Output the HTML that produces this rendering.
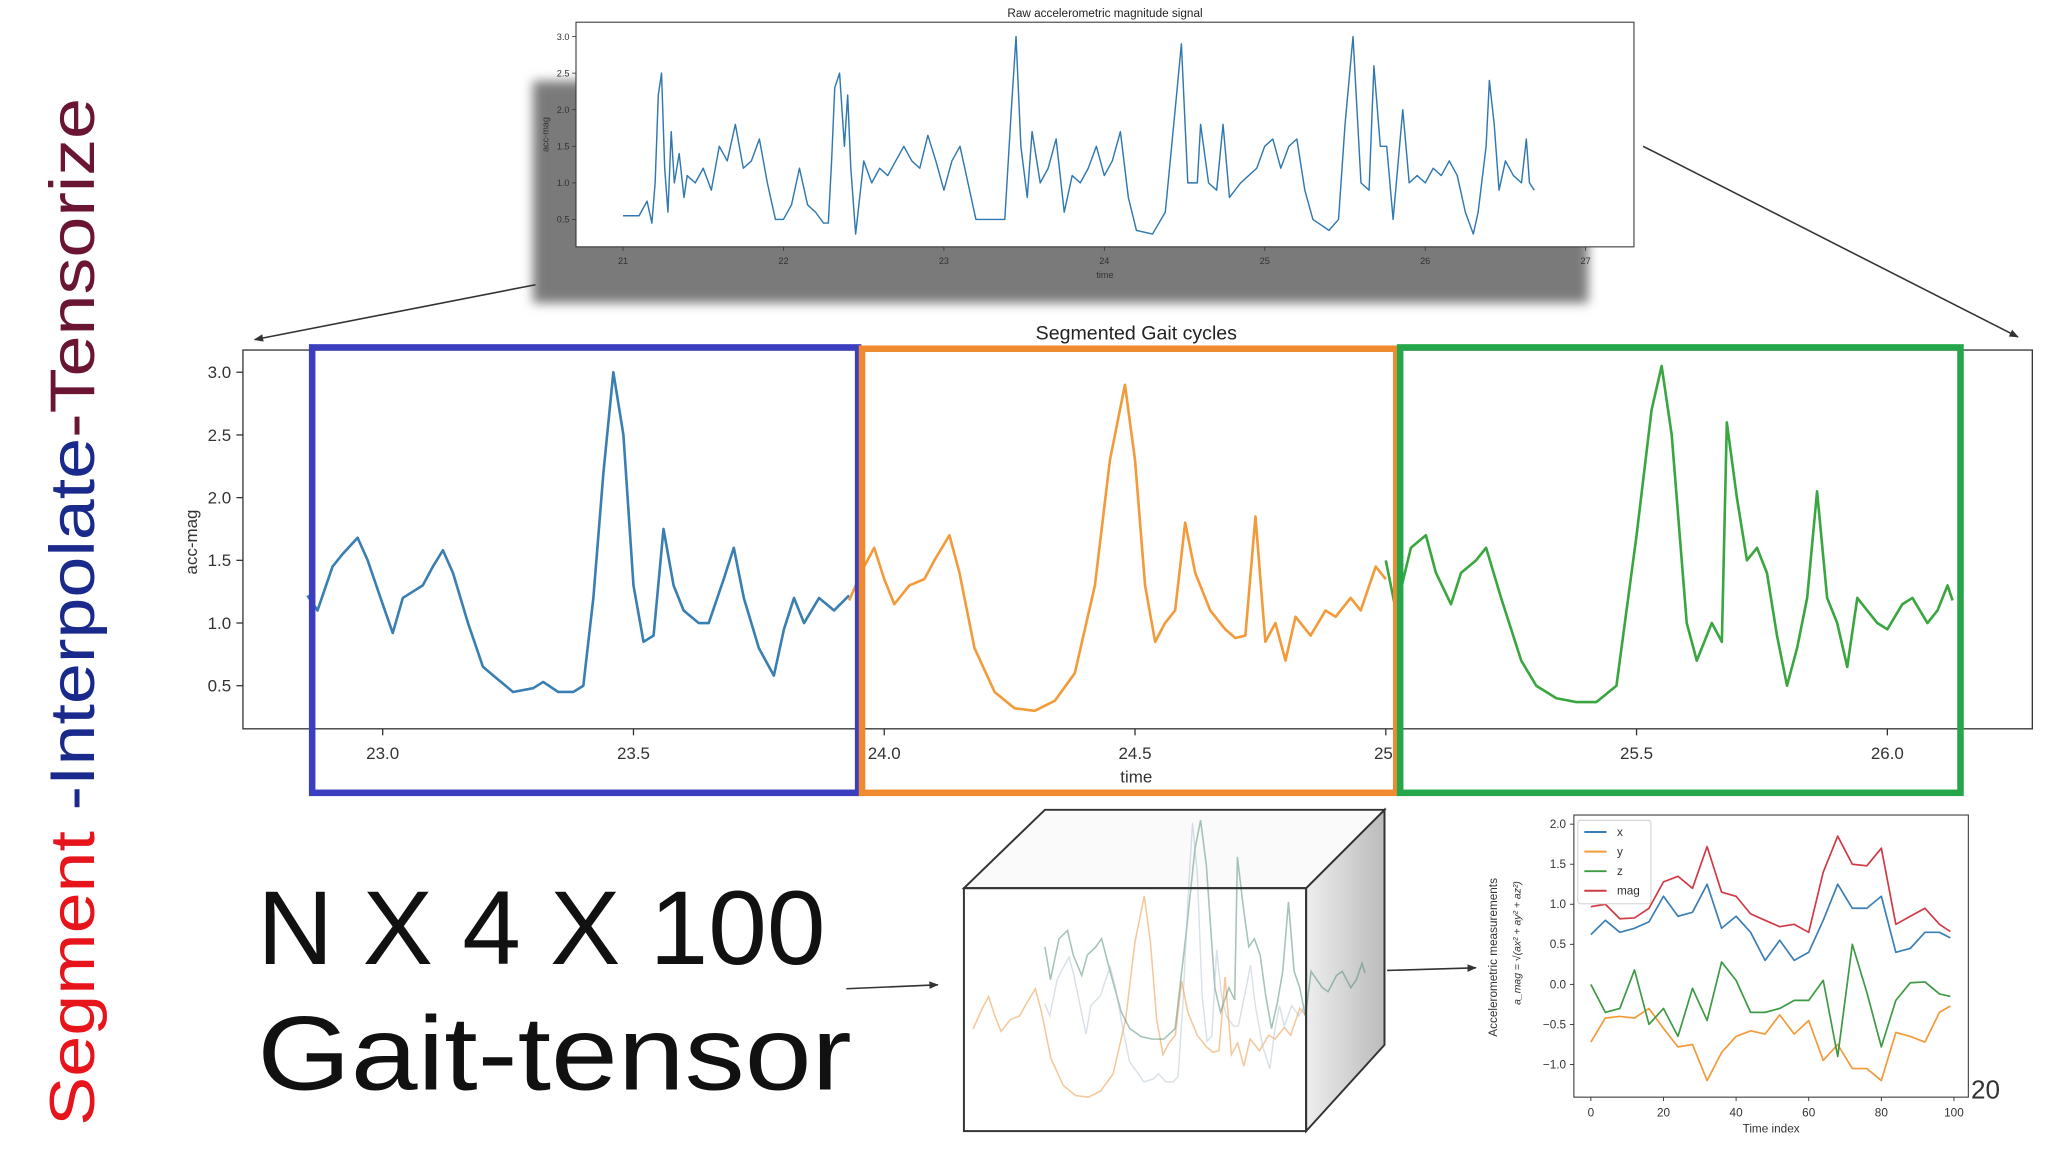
<!DOCTYPE html>
<html><head><meta charset="utf-8"><style>
html,body{margin:0;padding:0;background:#fff;}
svg{display:block;font-family:"Liberation Sans","DejaVu Sans",sans-serif;}
</style></head><body>
<svg id="s" width="2048" height="1152" viewBox="0 0 1568 882" xmlns="http://www.w3.org/2000/svg">
<defs>
<filter id="blur" x="-10%" y="-10%" width="120%" height="120%"><feGaussianBlur stdDeviation="4"/></filter>
<marker id="ah" viewBox="0 0 10 10" refX="9" refY="5" markerWidth="6" markerHeight="6" orient="auto"><path d="M0,1 L10,5 L0,9 z" fill="#333"/></marker>
<linearGradient id="sideg" x1="0" x2="1"><stop offset="0" stop-color="#eee"/><stop offset="1" stop-color="#bbb"/></linearGradient>
</defs>
<text transform="translate(72,862) rotate(-90)" font-size="48" textLength="787" lengthAdjust="spacingAndGlyphs" font-family="Liberation Sans, sans-serif"><tspan fill="#e8141c">Segment </tspan><tspan fill="#1a2a8c">-Interpolate</tspan><tspan fill="#6b1535">-Tensorize</tspan></text>

<rect x="408" y="62" width="808" height="170" fill="#7a7a7a" filter="url(#blur)"/>
<g id="top"></g>
<line x1="410" y1="218" x2="195" y2="260" stroke="#333" stroke-width="1.2" marker-end="url(#ah)"/>
<line x1="1258" y1="112" x2="1545" y2="258" stroke="#333" stroke-width="1.2" marker-end="url(#ah)"/>
<g id="mid"></g>

<text x="197" y="738" font-size="80" fill="#111" textLength="435" lengthAdjust="spacingAndGlyphs">N X 4 X 100</text>
<text x="197" y="834" font-size="80" fill="#111" textLength="455" lengthAdjust="spacingAndGlyphs">Gait-tensor</text>

<g>
<polygon points="1000,680 1060,620 1060,800 1000,866" fill="url(#sideg)" stroke="#333" stroke-width="1.5"/>
<polygon points="738,680 800,620 1060,620 1000,680" fill="#fafafa" stroke="#333" stroke-width="1.5"/>
<g id="cubelines"></g>
<rect x="738" y="680" width="262" height="186" fill="none" stroke="#333" stroke-width="1.5"/>
</g>
<line x1="648" y1="757" x2="718" y2="754" stroke="#333" stroke-width="1.2" marker-end="url(#ah)"/>
<line x1="1062" y1="743" x2="1130" y2="741" stroke="#333" stroke-width="1.2" marker-end="url(#ah)"/>
<g id="bot"></g>
<text x="1509" y="841" font-size="20" fill="#333">20</text>
</svg>
<script>
// ---- raw signal data ----
const rawT=[21.0,21.1,21.15,21.18,21.2,21.22,21.24,21.26,21.28,21.3,21.32,21.35,21.38,21.4,21.45,21.5,21.55,21.6,21.65,21.7,21.75,21.8,21.85,21.9,21.95,22.0,22.05,22.1,22.15,22.2,22.25,22.28,22.3,22.32,22.35,22.38,22.4,22.42,22.45,22.5,22.55,22.6,22.65,22.7,22.75,22.8,22.85,22.9,22.95,23.0,23.05,23.1,23.15,23.2,23.3,23.38,23.42,23.45,23.48,23.52,23.55,23.6,23.65,23.7,23.75,23.8,23.85,23.9,23.95,24.0,24.05,24.1,24.15,24.2,24.3,24.38,24.45,24.48,24.52,24.58,24.6,24.65,24.7,24.74,24.78,24.85,24.9,24.95,25.0,25.05,25.1,25.15,25.2,25.25,25.3,25.4,25.46,25.5,25.55,25.6,25.65,25.68,25.72,25.76,25.8,25.86,25.9,25.95,26.0,26.05,26.1,26.15,26.2,26.25,26.3,26.33,26.38,26.4,26.43,26.46,26.5,26.55,26.6,26.63,26.65,26.68];
const rawV=[0.55,0.55,0.75,0.45,1.0,2.2,2.5,1.2,0.6,1.7,1.0,1.4,0.8,1.1,1.0,1.2,0.9,1.5,1.3,1.8,1.2,1.3,1.6,1.0,0.5,0.5,0.7,1.2,0.7,0.6,0.45,0.45,1.3,2.3,2.5,1.5,2.2,1.2,0.3,1.3,1.0,1.2,1.1,1.3,1.5,1.3,1.2,1.65,1.3,0.9,1.3,1.5,1.0,0.5,0.5,0.5,2.0,3.0,1.5,0.8,1.7,1.0,1.2,1.6,0.6,1.1,1.0,1.2,1.5,1.1,1.3,1.7,0.8,0.35,0.3,0.6,2.2,2.9,1.0,1.0,1.8,1.0,0.9,1.8,0.8,1.0,1.1,1.2,1.5,1.6,1.2,1.5,1.6,0.9,0.5,0.35,0.5,1.8,3.0,1.0,0.9,2.6,1.5,1.5,0.5,2.0,1.0,1.1,1.0,1.2,1.1,1.3,1.1,0.6,0.3,0.6,1.5,2.4,1.8,0.9,1.3,1.1,1.0,1.6,1.0,0.9];
const rawXTicks=[21,22,23,24,25,26,27];
const rawYTicks=[0.5,1.0,1.5,2.0,2.5,3.0];
// ---- segmented data ----
const blueT=[22.85,22.87,22.9,22.92,22.95,22.97,23.0,23.02,23.04,23.06,23.08,23.1,23.12,23.14,23.17,23.2,23.23,23.26,23.3,23.32,23.35,23.38,23.4,23.42,23.44,23.46,23.48,23.5,23.52,23.54,23.56,23.58,23.6,23.63,23.65,23.68,23.7,23.72,23.75,23.78,23.8,23.82,23.84,23.87,23.9,23.93];
const blueV=[1.22,1.1,1.45,1.55,1.68,1.5,1.15,0.92,1.2,1.25,1.3,1.45,1.58,1.4,1.0,0.65,0.55,0.45,0.48,0.53,0.45,0.45,0.5,1.2,2.2,3.0,2.5,1.3,0.85,0.9,1.75,1.3,1.1,1.0,1.0,1.35,1.6,1.2,0.8,0.58,0.95,1.2,1.0,1.2,1.1,1.22];
const orangeT=[23.93,23.96,23.98,24.0,24.02,24.05,24.08,24.1,24.13,24.15,24.18,24.22,24.26,24.3,24.34,24.38,24.42,24.45,24.48,24.5,24.52,24.54,24.56,24.58,24.6,24.62,24.65,24.68,24.7,24.72,24.74,24.76,24.78,24.8,24.82,24.85,24.88,24.9,24.93,24.95,24.98,25.0];
const orangeV=[1.18,1.45,1.6,1.35,1.15,1.3,1.35,1.5,1.7,1.4,0.8,0.45,0.32,0.3,0.38,0.6,1.3,2.3,2.9,2.3,1.3,0.85,1.0,1.1,1.8,1.4,1.1,0.95,0.88,0.9,1.85,0.85,1.0,0.7,1.05,0.9,1.1,1.05,1.2,1.1,1.45,1.35];
const greenT=[25.0,25.02,25.05,25.08,25.1,25.13,25.15,25.18,25.2,25.23,25.27,25.3,25.34,25.38,25.42,25.46,25.5,25.53,25.55,25.57,25.6,25.62,25.65,25.67,25.68,25.7,25.72,25.74,25.76,25.78,25.8,25.82,25.84,25.86,25.88,25.9,25.92,25.94,25.96,25.98,26.0,26.03,26.05,26.08,26.1,26.12,26.13];
const greenV=[1.5,1.1,1.6,1.7,1.4,1.15,1.4,1.5,1.6,1.2,0.7,0.5,0.4,0.37,0.37,0.5,1.7,2.7,3.05,2.5,1.0,0.7,1.0,0.85,2.6,2.0,1.5,1.6,1.4,0.9,0.5,0.8,1.2,2.05,1.2,1.0,0.65,1.2,1.1,1.0,0.95,1.15,1.2,1.0,1.1,1.3,1.18];
const midXTicks=[23.0,23.5,24.0,24.5,25.0,25.5,26.0];
const midXLabels=["23.0","23.5","24.0","24.5","25.","25.5","26.0"];
const midYTicks=[0.5,1.0,1.5,2.0,2.5,3.0];
// ---- tensor chart data ----
const idx=[0,4,8,12,16,20,24,28,32,36,40,44,48,52,56,60,64,68,72,76,80,84,88,92,96,99];
const xSer=[0.62,0.8,0.65,0.7,0.78,1.1,0.85,0.9,1.25,0.7,0.85,0.65,0.3,0.55,0.3,0.4,0.8,1.25,0.95,0.95,1.1,0.4,0.45,0.65,0.65,0.58];
const ySer=[-0.72,-0.42,-0.4,-0.42,-0.3,-0.55,-0.78,-0.75,-1.2,-0.85,-0.65,-0.58,-0.62,-0.38,-0.62,-0.45,-0.95,-0.75,-1.05,-1.05,-1.2,-0.6,-0.65,-0.72,-0.35,-0.27];
const zSer=[0.0,-0.35,-0.3,0.18,-0.5,-0.3,-0.65,-0.05,-0.45,0.28,0.05,-0.35,-0.35,-0.3,-0.2,-0.2,0.05,-0.9,0.5,-0.1,-0.78,-0.2,0.02,0.03,-0.12,-0.15];
const magSer=[0.97,1.0,0.82,0.83,0.95,1.28,1.35,1.2,1.72,1.15,1.1,0.88,0.8,0.72,0.75,0.65,1.4,1.85,1.5,1.48,1.7,0.75,0.85,0.95,0.75,0.66];
const botXTicks=[0,20,40,60,80,100];
const botYTicks=[-1.0,-0.5,0.0,0.5,1.0,1.5,2.0];

const NS="http://www.w3.org/2000/svg";
function mk(p,tag,at){const e=document.createElementNS(NS,tag);for(const k in at)e.setAttribute(k,at[k]);p.appendChild(e);return e;}
function scale(d0,d1,r0,r1){return v=>r0+(v-d0)/(d1-d0)*(r1-r0);}
function pathD(ts,vs,sx,sy){return ts.map((t,i)=>(i?'L':'M')+sx(t).toFixed(1)+','+sy(vs[i]).toFixed(1)).join(' ');}

// top chart
(function(){
const g=document.getElementById('top');
const sx=scale(21,27,477,1214), sy=scale(0.5,3.0,168,28);
let r=mk(g,'rect',{x:441,y:17,width:810,height:172,fill:'#fff',stroke:'#333','stroke-width':0.8});


let t=mk(g,'text',{x:846,y:13,'font-size':9,'text-anchor':'middle',fill:'#222'});t.textContent='Raw accelerometric magnitude signal';


rawXTicks.forEach(v=>{const x=sx(v);mk(g,'line',{x1:x,x2:x,y1:189,y2:192,stroke:'#333','stroke-width':0.6});const l=mk(g,'text',{x:x,y:202,'font-size':7,'text-anchor':'middle',fill:'#333'});l.textContent=v;

});
rawYTicks.forEach(v=>{const y=sy(v);mk(g,'line',{x1:438,x2:441,y1:y,y2:y,stroke:'#333','stroke-width':0.6});const l=mk(g,'text',{x:436,y:y+2.5,'font-size':7,'text-anchor':'end',fill:'#333'});l.textContent=v.toFixed(1);

});
let xl=mk(g,'text',{x:846,y:213,'font-size':7,'text-anchor':'middle',fill:'#333'});xl.textContent='time';


let yl=mk(g,'text',{transform:'translate(420,103) rotate(-90)','font-size':7,'text-anchor':'middle',fill:'#333'});yl.textContent='acc-mag';


let p=mk(g,'path',{d:pathD(rawT,rawV,sx,sy),fill:'none',stroke:'#2f78b0','stroke-width':1.1,'stroke-linejoin':'round'});


})();

// middle chart
(function(){
const g=document.getElementById('mid');
const sx=scale(23,26,293,1445), sy=scale(0.5,3.0,525,285);
let r=mk(g,'rect',{x:186,y:268,width:1370,height:290,fill:'#fff',stroke:'#333','stroke-width':1});


let t=mk(g,'text',{x:870,y:260,'font-size':15,'text-anchor':'middle',fill:'#222'});t.textContent='Segmented Gait cycles';


midXTicks.forEach((v,i)=>{const x=sx(v);mk(g,'line',{x1:x,x2:x,y1:558,y2:563,stroke:'#333'});const l=mk(g,'text',{x:x,y:581,'font-size':13,'text-anchor':'middle',fill:'#333'});l.textContent=midXLabels[i];

});
midYTicks.forEach(v=>{const y=sy(v);mk(g,'line',{x1:181,x2:186,y1:y,y2:y,stroke:'#333'});const l=mk(g,'text',{x:177,y:y+4.5,'font-size':13,'text-anchor':'end',fill:'#333'});l.textContent=v.toFixed(1);

});
let xl=mk(g,'text',{x:870,y:599,'font-size':13,'text-anchor':'middle',fill:'#333'});xl.textContent='time';


let yl=mk(g,'text',{transform:'translate(151,415) rotate(-90)','font-size':13,'text-anchor':'middle',fill:'#333'});yl.textContent='acc-mag';


[[blueT,blueV,'#3a7fb2','blue-cycle-line'],[orangeT,orangeV,'#f39a3a','orange-cycle-line'],[greenT,greenV,'#3aa640','green-cycle-line']].forEach(s=>{
const p=mk(g,'path',{d:pathD(s[0],s[1],sx,sy),fill:'none',stroke:s[2],'stroke-width':2,'stroke-linejoin':'round'});

});
[[239,266,418,341,'#3b3fbf','blue-cycle-box'],[660,267,409,340,'#f08a30','orange-cycle-box'],[1072,266,429,341,'#25a64a','green-cycle-box']].forEach(b=>{
const rr=mk(g,'rect',{x:b[0],y:b[1],width:b[2],height:b[3],fill:'none',stroke:b[4],'stroke-width':5});

});
})();

// cube faint lines
(function(){
const g=document.getElementById('cubelines');
const sy=scale(0.3,3.0,840,630);
const p1=mk(g,'path',{d:pathD(orangeT,orangeV,scale(23.93,25.0,745,1000),scale(0.3,3.0,840,680)),fill:'none',stroke:'#f0b070','stroke-width':1.2,opacity:0.7});


const p2=mk(g,'path',{d:pathD(greenT,greenV,scale(25.0,26.13,800,1045),scale(0.3,3.05,800,628)),fill:'none',stroke:'#4a8a70','stroke-width':1.2,opacity:0.5});


const p3=mk(g,'path',{d:pathD(blueT,blueV,scale(22.85,23.93,800,1000),sy),fill:'none',stroke:'#a8bccc','stroke-width':1.1,opacity:0.45});


})();

// bottom chart
(function(){
const g=document.getElementById('bot');
const sx=scale(0,100,1218,1496), sy=scale(-1,2,815,631);
let r=mk(g,'rect',{x:1205,y:624,width:302,height:216,fill:'#fff',stroke:'#333','stroke-width':0.8});


botXTicks.forEach(v=>{const x=sx(v);mk(g,'line',{x1:x,x2:x,y1:840,y2:843,stroke:'#333','stroke-width':0.7});const l=mk(g,'text',{x:x,y:855,'font-size':9,'text-anchor':'middle',fill:'#333'});l.textContent=v;

});
botYTicks.forEach(v=>{const y=sy(v);mk(g,'line',{x1:1202,x2:1205,y1:y,y2:y,stroke:'#333','stroke-width':0.7});const l=mk(g,'text',{x:1199,y:y+3,'font-size':9,'text-anchor':'end',fill:'#333'});l.textContent=(v<0?'\u2212':'')+Math.abs(v).toFixed(1);

});
let xl=mk(g,'text',{x:1356,y:867,'font-size':9,'text-anchor':'middle',fill:'#333'});xl.textContent='Time index';


let yl=mk(g,'text',{transform:'translate(1146,733) rotate(-90)','font-size':9,'text-anchor':'middle',fill:'#333'});yl.textContent='Accelerometric measurements';


let yl2=mk(g,'text',{transform:'translate(1164,722) rotate(-90)','font-size':8,'text-anchor':'middle',fill:'#333','font-style':'italic'});yl2.textContent='a_mag = \u221A(ax\u00B2 + ay\u00B2 + az\u00B2)';


const ser=[[xSer,'#3b7fb5','x'],[ySer,'#f39a3a','y'],[zSer,'#3e9a45','z'],[magSer,'#d03a45','mag']];
ser.forEach(s=>{const p=mk(g,'path',{d:pathD(idx,s[0],sx,sy),fill:'none',stroke:s[1],'stroke-width':1.3,'stroke-linejoin':'round'});

});
const lg=mk(g,'g',{});


mk(lg,'rect',{x:1208,y:628,width:56,height:64,fill:'#fff',stroke:'#ccc','stroke-width':0.7,rx:2});
ser.forEach((s,i)=>{const y=637+i*15;mk(lg,'line',{x1:1213,x2:1230,y1:y,y2:y,stroke:s[1],'stroke-width':1.5});const t=mk(lg,'text',{x:1238,y:y+3,'font-size':9,fill:'#333'});t.textContent=s[2];

});
})();
</script>
</body></html>
